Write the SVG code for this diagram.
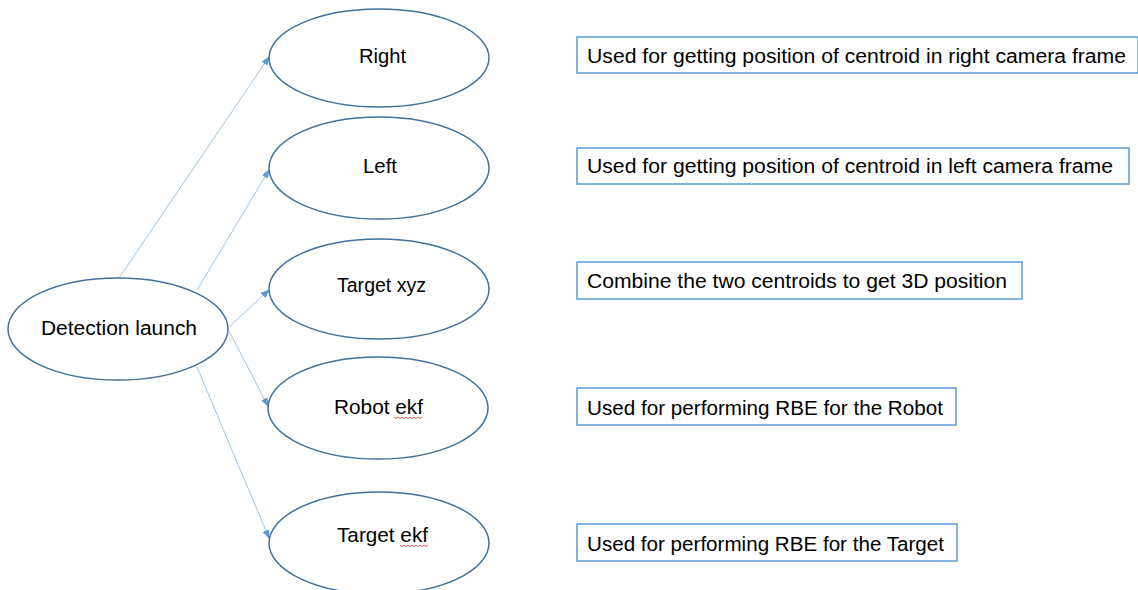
<svg xmlns="http://www.w3.org/2000/svg" width="1138" height="590" viewBox="0 0 1138 590">
<style>
.bg{fill:#ffffff}
.node ellipse{fill:#ffffff;stroke:#41719c;stroke-width:1.5}
.note rect{fill:#ffffff;stroke:#5b9bd5;stroke-width:1.5}
text{font-family:"Liberation Sans",Arial,sans-serif;font-size:20px;fill:#000000}
.conn line{stroke:#9dc3e6;stroke-width:1;marker-end:url(#ah)}
.sq{fill:none;stroke:#e03030;stroke-width:0.8}
</style>
<defs>
<marker id="ah" markerUnits="userSpaceOnUse" markerWidth="9" markerHeight="7" refX="8" refY="3.5" orient="auto">
<path d="M0,0 L9,3.5 L0,7 z" fill="#5b9bd5"/>
</marker>
</defs>
<rect class="bg" x="0" y="0" width="1138" height="590"/>

<g id="connectors" class="conn">
<line x1="119" y1="278" x2="269" y2="57"/>
<line x1="197" y1="290" x2="269" y2="170"/>
<line x1="229" y1="327" x2="269" y2="290"/>
<line x1="229" y1="331" x2="268" y2="406"/>
<line x1="197" y1="367" x2="269" y2="538"/>
</g>

<g id="detection" class="node">
<ellipse cx="118" cy="329" rx="110" ry="51"/>
<text x="41" y="335" textLength="156" lengthAdjust="spacingAndGlyphs">Detection launch</text>
</g>

<g id="right" class="node">
<ellipse cx="379" cy="58" rx="110" ry="49"/>
<text x="359" y="63" textLength="47" lengthAdjust="spacingAndGlyphs">Right</text>
</g>

<g id="left" class="node">
<ellipse cx="379" cy="168" rx="110" ry="51"/>
<text x="363" y="173" textLength="34" lengthAdjust="spacingAndGlyphs">Left</text>
</g>

<g id="target-xyz" class="node">
<ellipse cx="379" cy="289" rx="110" ry="50"/>
<text x="337" y="292" textLength="89" lengthAdjust="spacingAndGlyphs">Target xyz</text>
</g>

<g id="robot-ekf" class="node">
<ellipse cx="378" cy="408" rx="110" ry="51"/>
<text x="334" y="414" textLength="89" lengthAdjust="spacingAndGlyphs">Robot ekf</text>
<path class="sq" d="M394,417 l2,1.5 l2,-1.5 l2,1.5 l2,-1.5 l2,1.5 l2,-1.5 l2,1.5 l2,-1.5 l2,1.5 l2,-1.5 l2,1.5 l2,-1.5 l2,1.5 l2,-1.5"/>
</g>

<g id="target-ekf" class="node">
<ellipse cx="379" cy="543" rx="110" ry="51"/>
<text x="337" y="542" textLength="91" lengthAdjust="spacingAndGlyphs">Target ekf</text>
<path class="sq" d="M400,545 l2,1.5 l2,-1.5 l2,1.5 l2,-1.5 l2,1.5 l2,-1.5 l2,1.5 l2,-1.5 l2,1.5 l2,-1.5 l2,1.5 l2,-1.5 l2,1.5 l2,-1.5"/>
</g>

<g id="note-right" class="note">
<rect x="577" y="37" width="561" height="36"/>
<text x="587" y="63" textLength="539" lengthAdjust="spacingAndGlyphs">Used for getting position of centroid in right camera frame</text>
</g>

<g id="note-left" class="note">
<rect x="577" y="148" width="552" height="36"/>
<text x="587" y="173" textLength="526" lengthAdjust="spacingAndGlyphs">Used for getting position of centroid in left camera frame</text>
</g>

<g id="note-xyz" class="note">
<rect x="577" y="262" width="445" height="37"/>
<text x="587" y="288" textLength="420" lengthAdjust="spacingAndGlyphs">Combine the two centroids to get 3D position</text>
</g>

<g id="note-robot" class="note">
<rect x="577" y="388" width="379" height="37"/>
<text x="587" y="415" textLength="356" lengthAdjust="spacingAndGlyphs">Used for performing RBE for the Robot</text>
</g>

<g id="note-target" class="note">
<rect x="577" y="524" width="380" height="37"/>
<text x="587" y="551" textLength="357" lengthAdjust="spacingAndGlyphs">Used for performing RBE for the Target</text>
</g>
</svg>
